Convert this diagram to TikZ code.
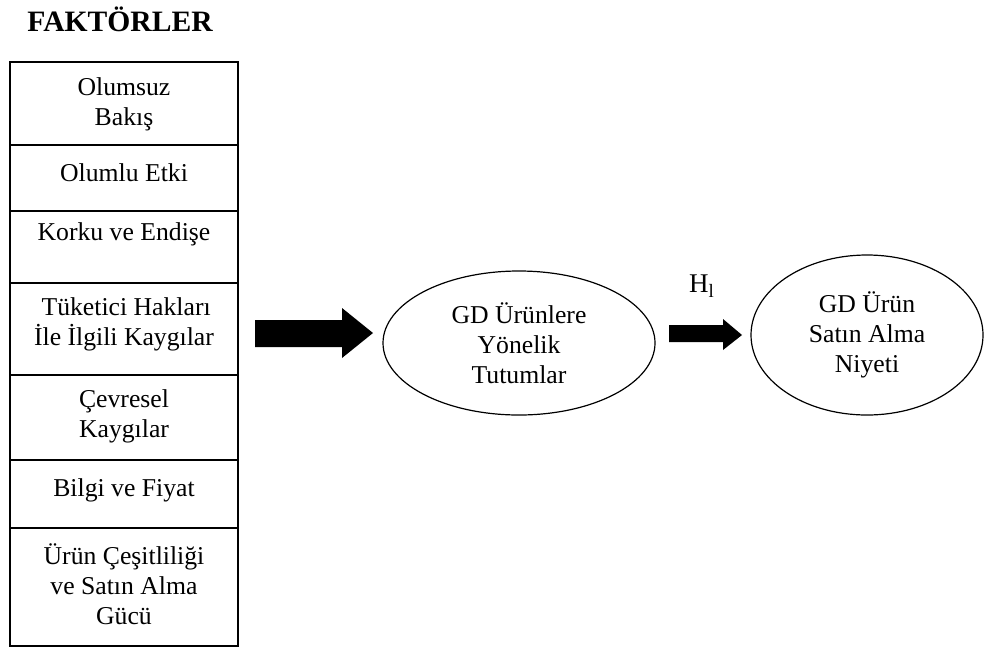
\documentclass[tikz,border=0pt]{standalone}
\usepackage{fontspec}
\setmainfont{Liberation Serif}
\usetikzlibrary{shapes.geometric}
\begin{document}
\begin{tikzpicture}[x=0.5pt,y=-0.5pt,
  lbl/.style={inner sep=0pt,align=center,font=\fontsize{12.85}{15}\selectfont},
  rowline/.style={line width=0.75pt},
  oval/.style={draw,ellipse,line width=0.6pt,inner sep=0pt},
  blockarrow/.style={fill=black}]
\useasboundingbox (0,0) rectangle (989,649);
% title
\node[inner sep=0pt,font=\fontsize{14.8}{17}\selectfont\bfseries] (title) at (120,19) {FAKTÖRLER};
% factor box
\draw[rowline] (10,62) rectangle (238,646);
\foreach \yy in {145,211,283,375,460,528}{\draw[rowline] (10,\yy) -- (238,\yy);}
\node[lbl] (f1) at (124,104) {Olumsuz\\ Bakış};
\node[lbl] (f2) at (124,173) {Olumlu Etki};
\node[lbl] (f3) at (124,234) {Korku ve Endişe};
\node[lbl] (f4) at (124,324) {\,Tüketici Hakları\\İle İlgili Kaygılar};
\node[lbl] (f5) at (124,416) {Çevresel\\Kaygılar};
\node[lbl] (f6) at (124,490) {Bilgi ve Fiyat};
\node[lbl] (f7) at (124,584) {Ürün Çeşitliliği\\ve Satın Alma\\Gücü};
% ellipses
\node[oval,minimum width=136pt,minimum height=72pt,lbl,draw] (att) at (519,343) {GD Ürünlere\\Yönelik\\Tutumlar};
\node[oval,minimum width=116pt,minimum height=80pt,lbl,draw] (int) at (867,335) {GD Ürün\\Satın Alma\\Niyeti};
% block arrows
\fill[blockarrow] (255,320) -- (342,320) -- (342,308) -- (373,333) -- (342,358) -- (342,347) -- (255,347) -- cycle;
\fill[blockarrow] (669,325) -- (723,325) -- (723,319) -- (742,335) -- (723,350) -- (723,342) -- (669,342) -- cycle;
\node[inner sep=0pt,font=\fontsize{13.5}{16}\selectfont] (h1) at (702,286) {H\textsubscript{l}};
\end{tikzpicture}
\end{document}
